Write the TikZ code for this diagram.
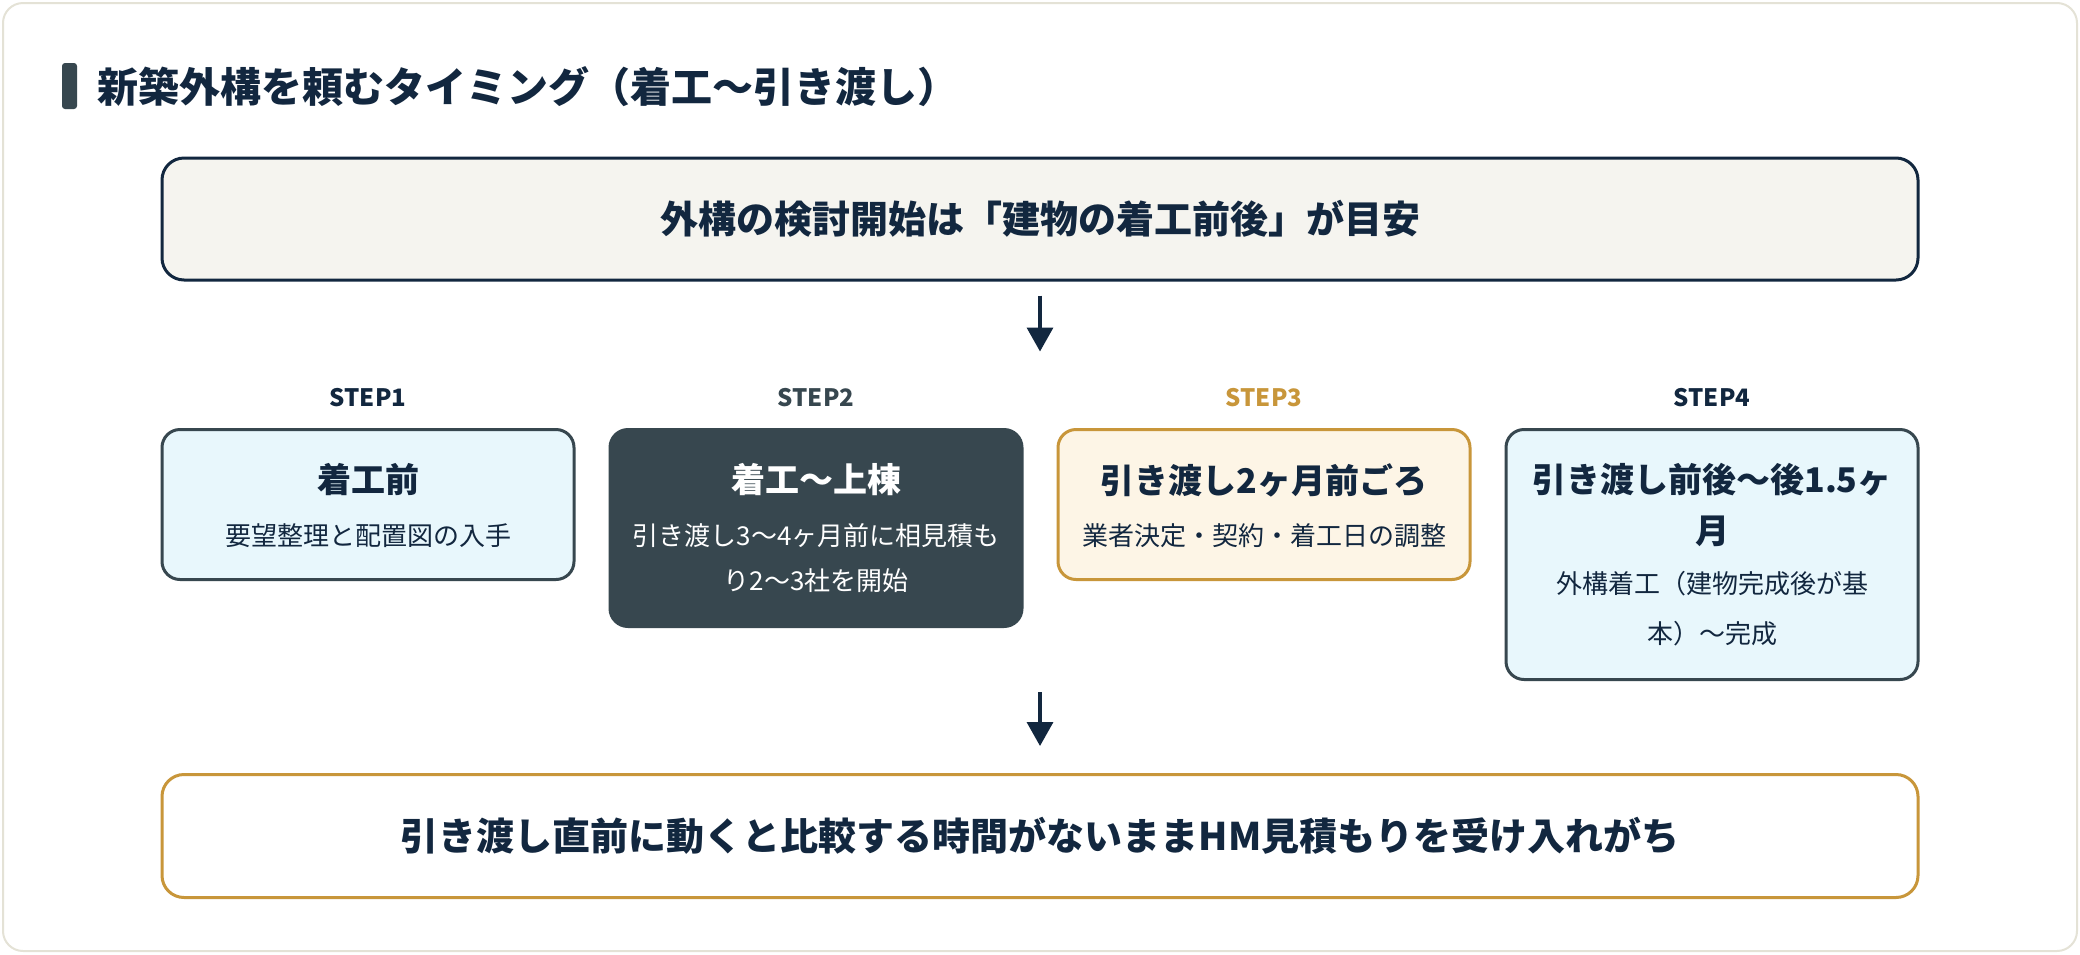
\documentclass[tikz,border=0pt]{standalone}
\usepackage{fontspec}
\setmainfont{Noto Sans CJK JP}
\usetikzlibrary{arrows.meta,positioning}
\definecolor{navy}{HTML}{12273F}
\definecolor{slate}{HTML}{37474F}
\definecolor{gold}{HTML}{C8963A}
\definecolor{cream}{HTML}{FDF5E6}
\definecolor{icy}{HTML}{E8F7FC}
\definecolor{paper}{HTML}{F5F4EF}
\definecolor{cardline}{HTML}{E4E2D6}
\def\fs#1{\fontsize{#1pt}{#1pt}\selectfont}
\tikzset{
	box/.style={draw=slate, line width=3pt, rounded corners=18pt, minimum width=412pt, anchor=north, fill=icy},
	steplabel/.style={font=\fs{24}\bfseries, text=navy},
	boxtitle/.style={font=\fs{34}\bfseries, text=navy},
	boxsub/.style={font=\fs{26}, text=navy},
	flow/.style={draw=navy, line width=3.5pt, -{Triangle[width=26pt,length=24pt]}}
}

\begin{document}
\begin{tikzpicture}[x=1pt, y=-1pt]
		%%%%% START %%%%%
		\useasboundingbox (0,0) rectangle (2080,954);
		\draw[cardline, line width=2pt, fill=white, rounded corners=20pt] (3,3) rectangle (2077,951);
		
		% heading
		\fill[slate, rounded corners=3pt] (62,63) rectangle (77,109);
		\node[anchor=west, font=\fs{41}\bfseries, text=navy, inner sep=0pt] (head) at (97,87) {新築外構を頼むタイミング（着工〜引き渡し）};
		
		\node[draw=navy, line width=3pt, fill=paper, rounded corners=22pt, minimum width=1756pt, minimum height=122pt, font=\fs{38}\bfseries, text=navy] (goal) at (1040,219) {外構の検討開始は「建物の着工前後」が目安};
		
		\draw[flow] ([yshift=-14pt]goal.south) -- ([yshift=-70pt]goal.south);
		
		% steps
		\node[steplabel] (s1) at (368,398) {STEP1};
		\node[steplabel, text=slate] (s2) at (816,398) {STEP2};
		\node[steplabel, text=gold] (s3) at (1264,398) {STEP3};
		\node[steplabel] (s4) at (1712,398) {STEP4};
		
		\node[box, minimum height=150pt] (b1) at (368,428) {};
		\node[box, minimum height=197pt, fill=slate] (b2) at (816,428) {};
		\node[box, minimum height=150pt, draw=gold, fill=cream] (b3) at (1264,428) {};
		\node[box, minimum height=250pt] (b4) at (1712,428) {};
		
		\node[boxtitle] (t1) at (368,480) {着工前};
		\node[boxsub] (u1) at (368,536) {要望整理と配置図の入手};
		
		\node[boxtitle, text=white] (t2) at (816,480) {着工〜上棟};
		\node[boxsub, text=white] (u2) at (816,536) {引き渡し3〜4ヶ月前に相見積も};
		\node[boxsub, text=white] (v2) at (816,581) {り2〜3社を開始};
		
		\node[boxtitle] (t3) at (1264,480) {引き渡し2ヶ月前ごろ};
		\node[boxsub] (u3) at (1264,536) {業者決定・契約・着工日の調整};
		
		\node[boxtitle] (t4) at (1712,480) {引き渡し前後〜後1.5ヶ};
		\node[boxtitle] (w4) at (1712,531) {月};
		\node[boxsub] (u4) at (1712,584) {外構着工（建物完成後が基};
		\node[boxsub] (v4) at (1712,634) {本）〜完成};
		
		% result
		\node[draw=gold, line width=3pt, fill=white, rounded corners=22pt, minimum width=1756pt, minimum height=123pt, font=\fs{38}\bfseries, text=navy] (note) at (1040,836) {引き渡し直前に動くと比較する時間がないままHM見積もりを受け入れがち};
		
		\coordinate (mid) at (1040,692);
		\draw[flow] (mid) -- ([yshift=27pt]note.north);
		%%%%% END %%%%%
	\end{tikzpicture}
\end{document}
